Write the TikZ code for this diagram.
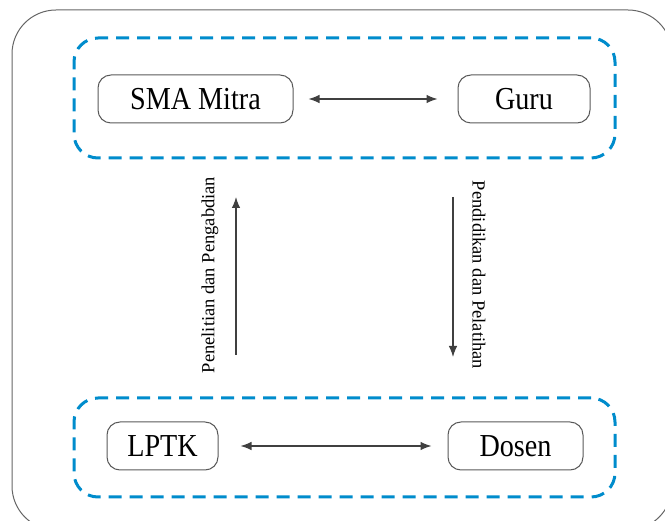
\documentclass[tikz,border=0pt]{standalone}
\usepackage{fontspec}
\setmainfont{Liberation Serif}
\newfontfamily\boxfont[FakeStretch=0.88]{Liberation Serif}
\usetikzlibrary{arrows.meta}
\definecolor{groupblue}{RGB}{0,140,204}
\tikzset{
    actor/.style={draw=black!65, line width=1pt, rounded corners=13pt, minimum height=48pt,
        inner sep=0pt, font=\boxfont\fontsize{32}{36}\selectfont},
    group/.style={draw=groupblue, line width=3pt, dash pattern=on 13pt off 8pt,
        rounded corners=24pt, inner sep=0pt},
    link/.style={draw=black!75, line width=1.1pt, {Latex[length=11pt,width=8.5pt]}-{Latex[length=11pt,width=8.5pt]}},
    flow/.style={draw=black!75, line width=1.1pt, -{Latex[length=11pt,width=8.5pt]}},
    flowlabel/.style={font=\fontsize{18.5}{20}\selectfont, inner sep=0pt}
}
\begin{document}
\begin{tikzpicture}[x=1pt, y=-1pt]
        \useasboundingbox (0, 0) rectangle (665, 521);
        \draw [black!60, line width=1pt, rounded corners=44pt] (12, 10) rectangle (672, 530);
        \node [group, minimum width=541pt, minimum height=120pt] (top) at (344.5, 98) {};
        \node [group, minimum width=541pt, minimum height=99pt] (bottom) at (344.5, 447.5) {};
        \node [actor, minimum width=195pt] (sma) at (195.5, 99) {SMA Mitra};
        \node [actor, minimum width=132pt] (guru) at (524, 99) {Guru};
        \node [actor, minimum width=111pt] (lptk) at (162.5, 446) {LPTK};
        \node [actor, minimum width=135pt] (dosen) at (515.5, 446) {Dosen};
        \coordinate (1) at (236, 355);
        \coordinate (2) at (236, 197);
        \coordinate (3) at (453, 197);
        \coordinate (4) at (453, 357);
        \node [flowlabel, rotate=90] (5) at (210, 275) {Penelitian dan Pengabdian};
        \node [flowlabel, rotate=-90] (6) at (479, 275) {Pendidikan dan Pelatihan};
        \draw [link, shorten <=15pt, shorten >=20pt] (sma) to (guru);
        \draw [link, shorten <=22pt, shorten >=16pt] (lptk) to (dosen);
        \draw [flow] (1) to (2);
        \draw [flow] (3) to (4);
    \end{tikzpicture}
\end{document}
